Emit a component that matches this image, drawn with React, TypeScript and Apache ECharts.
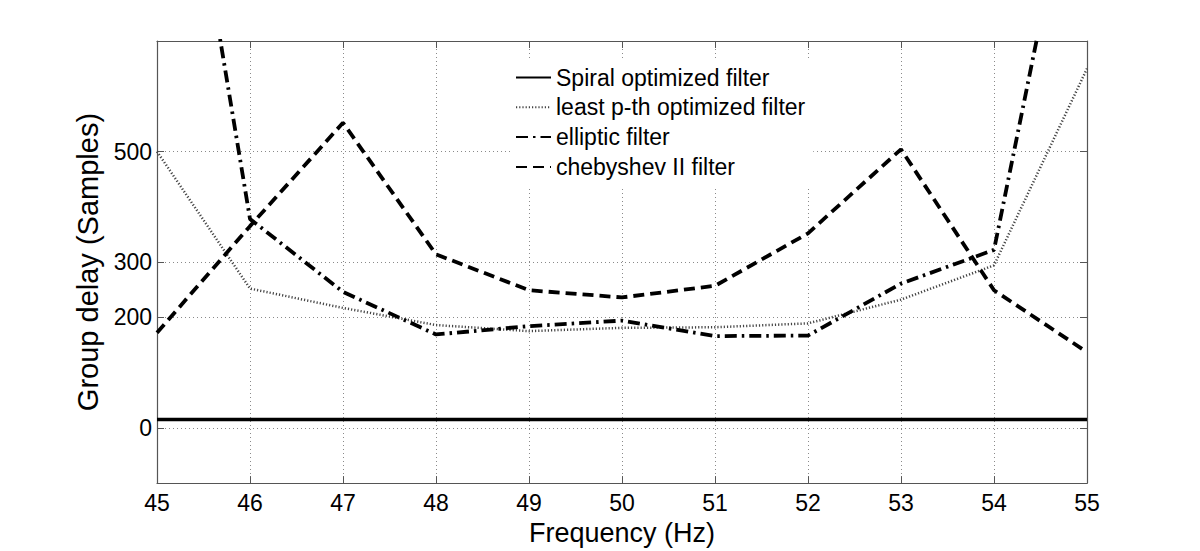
import React, { useEffect, useRef } from "react";
import * as echarts from "echarts";

const freqs = [45, 46, 47, 48, 49, 50, 51, 52, 53, 54, 55];
const spiral = [15, 15, 15, 15, 15, 15, 15, 15, 15, 15, 15];
const leastPth = [500, 252, 217, 186, 175, 181, 182, 189, 232, 294, 650];
const elliptic = [1390, 378, 246, 169, 184, 194, 166, 167, 261, 322, 1150];
const chebyshev = [172, 365, 552, 314, 249, 236, 257, 352, 504, 249, 137];
const yTicks = [0, 200, 300, 500];
const seriesNames = [
  "Spiral optimized filter",
  "least p-th optimized filter",
  "elliptic filter",
  "chebyshev II filter",
];

const FONT = "Liberation Sans, Arial, sans-serif";

function pairs(vals: number[]) {
  return freqs.map((f, i) => [f, vals[i]]);
}

export default function App() {
  const ref = useRef<HTMLDivElement>(null);
  useEffect(() => {
    if (!ref.current) return;
    const chart = echarts.init(ref.current, undefined, { renderer: "svg" });
    const gridLine = { show: true, lineStyle: { color: "#8a8a8a", type: [1, 3] as any, width: 1 } };
    const axisLineStyle = { show: true, onZero: false, lineStyle: { color: "#555", width: 1.2 } };
    const tick = { show: true, inside: true, length: 7, lineStyle: { color: "#555" } };
    chart.setOption({
      animation: false,
      backgroundColor: "#fff",
      grid: { left: 157, right: 113, top: 41, bottom: 61, containLabel: false },
      legend: {
        orient: "vertical",
        left: 510,
        top: 61,
        backgroundColor: "#fff",
        borderWidth: 0,
        padding: [5, 8, 8, 5],
        itemWidth: 35,
        itemHeight: 23,
        itemGap: 6.8,
        itemStyle: { color: "transparent", borderColor: "transparent", borderWidth: 0, opacity: 0 },
        textStyle: { fontSize: 23, lineHeight: 23, fontFamily: FONT, color: "#000" },
        data: seriesNames,
      },
      xAxis: [
        {
          type: "value",
          min: 45,
          max: 55,
          interval: 1,
          position: "bottom",
          name: "Frequency (Hz)",
          nameLocation: "middle",
          nameGap: 30,
          nameTextStyle: { fontSize: 27, fontFamily: FONT, color: "#000" },
          axisLine: axisLineStyle,
          axisTick: tick,
          axisLabel: { fontSize: 23, fontFamily: FONT, color: "#000", margin: 8 },
          splitLine: gridLine,
        },
        {
          type: "value",
          min: 45,
          max: 55,
          interval: 1,
          position: "top",
          axisLine: axisLineStyle,
          axisTick: tick,
          axisLabel: { show: false },
          splitLine: { show: false },
        },
      ],
      yAxis: [
        {
          type: "value",
          min: -100,
          max: 700,
          position: "left",
          name: "Group delay (Samples)",
          nameLocation: "middle",
          nameGap: 35,
          nameTextStyle: { fontSize: 29, fontFamily: FONT, color: "#000" },
          axisLine: axisLineStyle,
          axisTick: { ...tick, customValues: yTicks },
          axisLabel: { fontSize: 23, fontFamily: FONT, color: "#000", margin: 5, customValues: yTicks },
          splitLine: gridLine,
        },
        {
          type: "value",
          min: -100,
          max: 700,
          position: "right",
          axisLine: axisLineStyle,
          axisTick: { ...tick, customValues: yTicks },
          axisLabel: { show: false, customValues: yTicks },
          splitLine: { show: false },
        },
      ],
      series: [
        {
          name: seriesNames[0],
          type: "line",
          data: pairs(spiral),
          showSymbol: false,
          symbol: "none",
          lineStyle: { color: "#000", width: 3.5, type: "solid" },
          itemStyle: { color: "#000" },
        },
        {
          name: seriesNames[1],
          type: "line",
          data: pairs(leastPth),
          showSymbol: false,
          symbol: "none",
          lineStyle: { color: "#444", width: 2.5, type: [1.2, 2] },
          itemStyle: { color: "#444" },
        },
        {
          name: seriesNames[2],
          type: "line",
          data: pairs(elliptic),
          showSymbol: false,
          symbol: "none",
          lineStyle: { color: "#000", width: 3.8, type: [12, 5, 2.5, 5] },
          itemStyle: { color: "#000" },
        },
        {
          name: seriesNames[3],
          type: "line",
          data: pairs(chebyshev),
          showSymbol: false,
          symbol: "none",
          lineStyle: { color: "#000", width: 3.8, type: [11, 6] },
          itemStyle: { color: "#000" },
        },
      ],
    });
    return () => chart.dispose();
  }, []);
  return (
    <div
      ref={ref}
      style={{ position: "fixed", left: 0, top: 0, width: 1200, height: 551, background: "#fff" }}
    />
  );
}
